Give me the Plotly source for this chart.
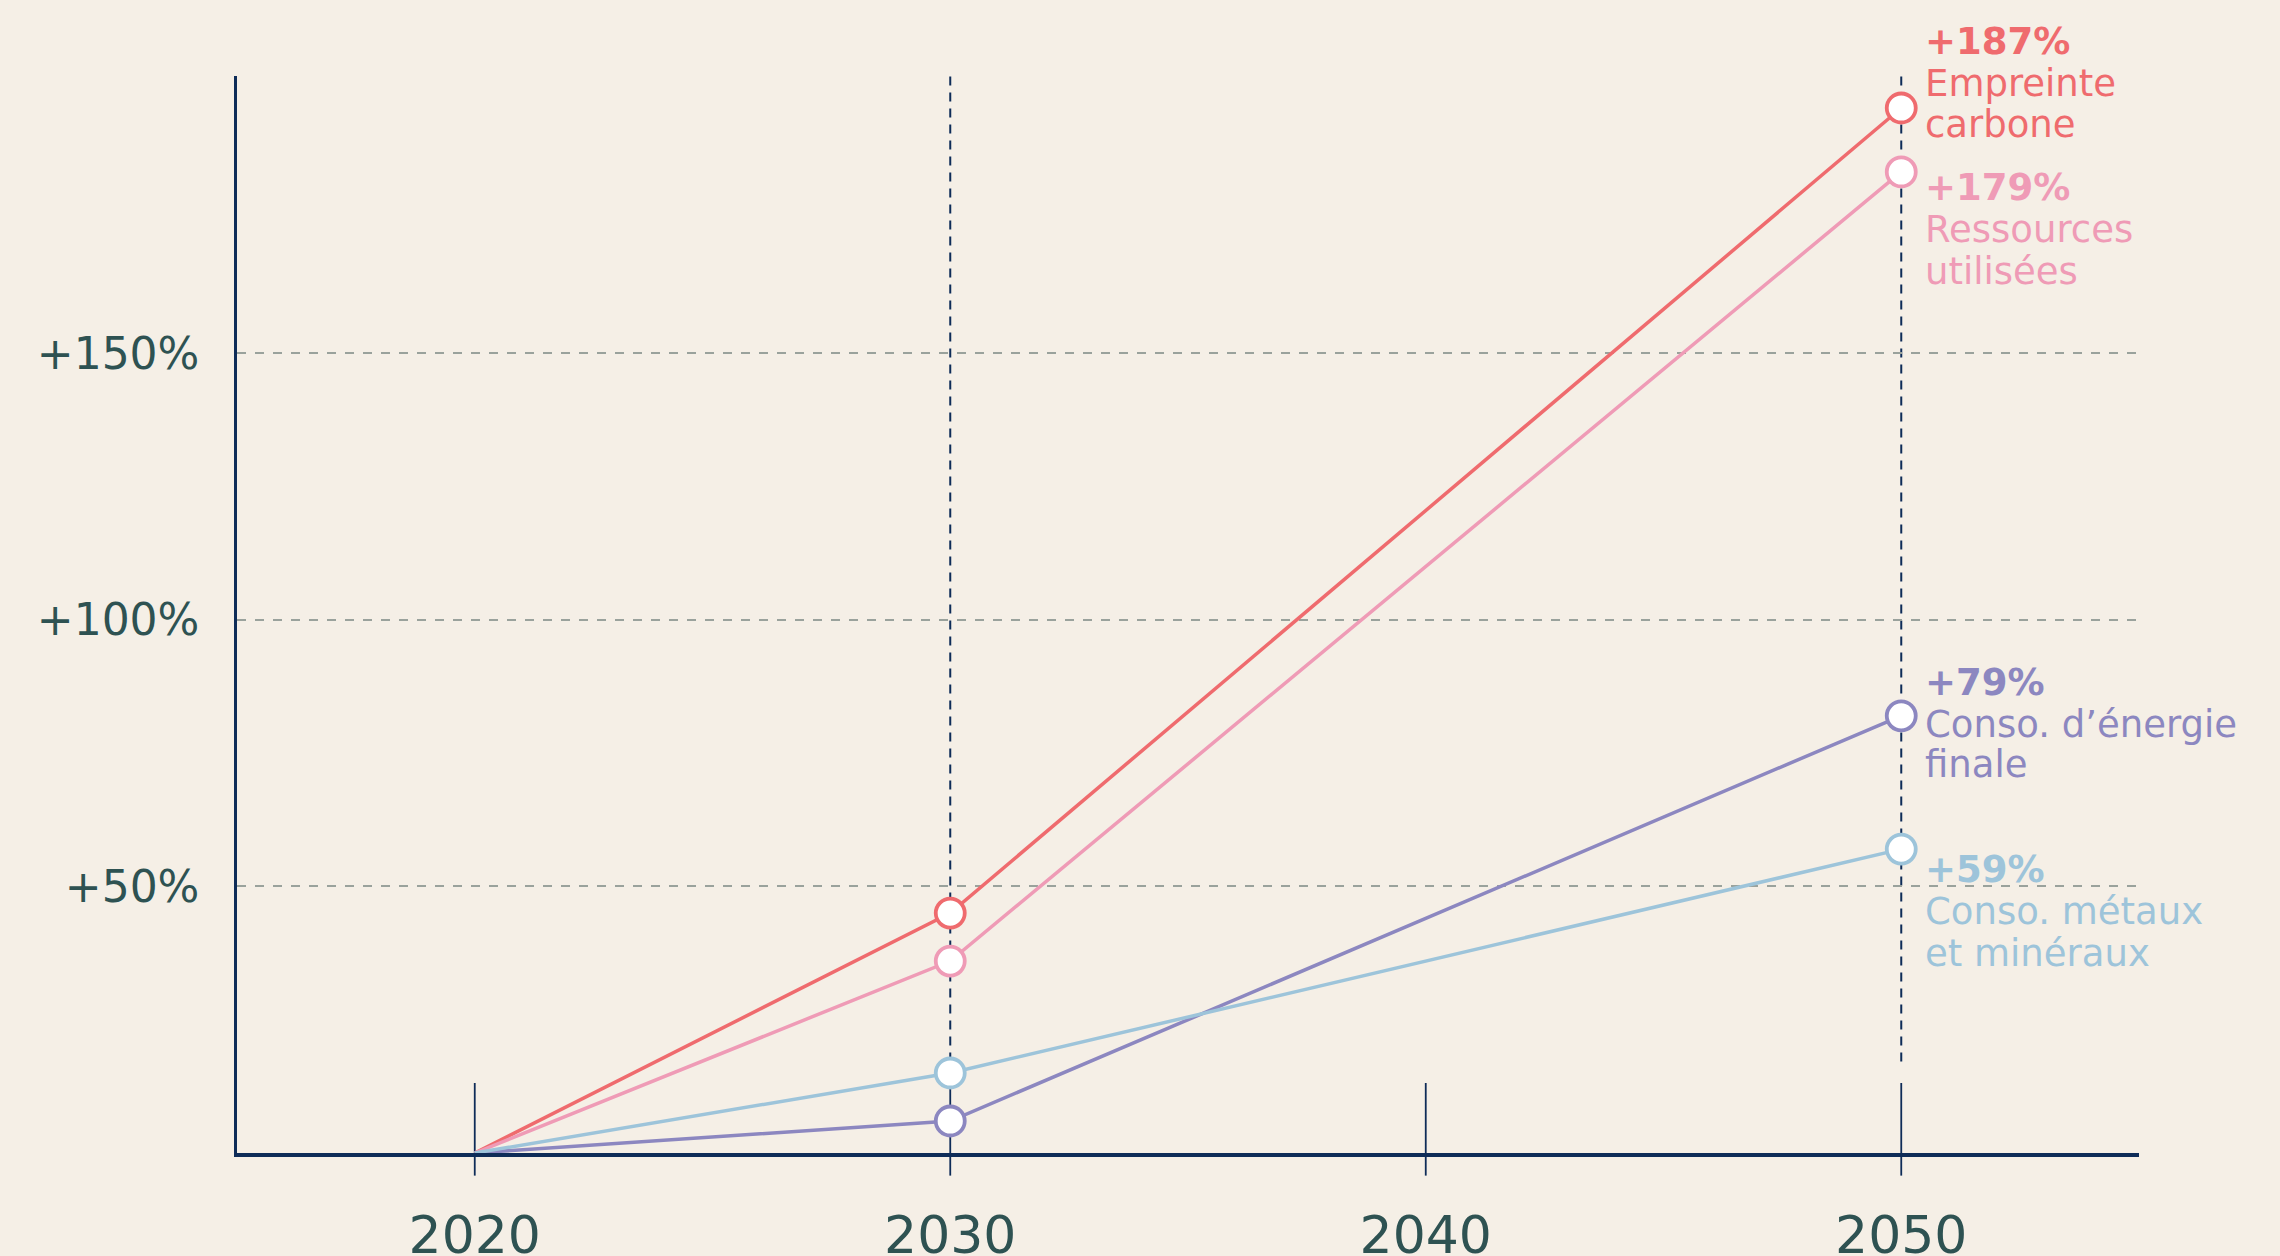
import plotly.graph_objects as go

years = [2020, 2030, 2050]
carbone = [0, 45, 196]
ressources = [0, 36, 184]
energie = [0, 6, 82]
metaux = [0, 15, 57]

series_names = ["Empreinte carbone", "Ressources utilisées", "Conso. d’énergie finale", "Conso. métaux et minéraux"]
series_values = [carbone, ressources, energie, metaux]
series_colors = ["#EF6B6E", "#EF9BB6", "#8C87C0", "#9DC4DA"]
end_pct = ["+187%", "+179%", "+79%", "+59%"]
label_lines = [["Empreinte", "carbone"], ["Ressources", "utilisées"],
               ["Conso. d’énergie", "finale"], ["Conso. métaux", "et minéraux"]]
# vertical offsets of the three label lines, relative to the end point (px, up is positive)
label_shifts = [[66, 24, -17], [-16, -58, -100], [33, -9, -49], [-20, -62, -104]]

x_ticks = [2020, 2030, 2040, 2050]
y_ticks = [50, 100, 150]
y_ticktext = ["+50%", "+100%", "+150%"]
dashed_years = [2030, 2050]

navy = "#0E2C58"
txt = "#2E5252"
bg = "#F5EFE6"
font = "DejaVu Sans"

fig = go.Figure()

for name, vals, col in zip(series_names, series_values, series_colors):
    fig.add_trace(go.Scatter(
        x=years, y=vals, name=name, mode="lines",
        line=dict(color=col, width=3.5), showlegend=False))

for name, vals, col in zip(series_names, series_values, series_colors):
    fig.add_trace(go.Scatter(
        x=years[1:], y=vals[1:], name=name, mode="markers",
        marker=dict(size=29, color="white", line=dict(color=col, width=3.8)),
        showlegend=False))

shapes = []
for yr in dashed_years:
    shapes.append(dict(type="line", xref="x", yref="paper", x0=yr, x1=yr, y0=0.085, y1=1,
                       line=dict(color=navy, width=2, dash="9px,7px"), layer="below"))
for yr in x_ticks:
    shapes.append(dict(type="line", xref="x", yref="paper", x0=yr, x1=yr, y0=-0.021, y1=0.065,
                       line=dict(color=navy, width=1.8), layer="below"))

annotations = []
for vals, col, pct, lines, shifts in zip(series_values, series_colors, end_pct, label_lines, label_shifts):
    texts = ["<b>" + pct + "</b>"] + lines
    for t, s in zip(texts, shifts):
        annotations.append(dict(x=years[-1], y=vals[-1], xref="x", yref="y", text=t,
                                showarrow=False, xanchor="left", yanchor="middle",
                                xshift=22, yshift=s,
                                font=dict(family=font, size=37, color=col)))

fig.update_layout(
    width=2280, height=1256,
    paper_bgcolor=bg, plot_bgcolor=bg,
    margin=dict(l=237, r=141, t=76, b=103),
    shapes=shapes, annotations=annotations,
    font=dict(family=font, color=txt),
    xaxis=dict(range=[2015, 2055], tickvals=x_ticks, ticks="", showgrid=False,
               zeroline=False, showline=True, linecolor=navy, linewidth=3.5,
               tickfont=dict(size=52, color=txt), ticklabelstandoff=34, automargin=False),
    yaxis=dict(range=[0, 202], tickvals=y_ticks, ticktext=y_ticktext, ticks="",
               showgrid=True, gridcolor="#9AA29C", gridwidth=2, griddash="dash",
               zeroline=False, showline=True, linecolor=navy, linewidth=2.5,
               tickfont=dict(size=44, color=txt), ticklabelstandoff=26, automargin=False),
)

fig.write_html("out.html", config={"displayModeBar": False},
               post_script="document.body.style.margin='0';document.body.style.background='%s';" % bg)
